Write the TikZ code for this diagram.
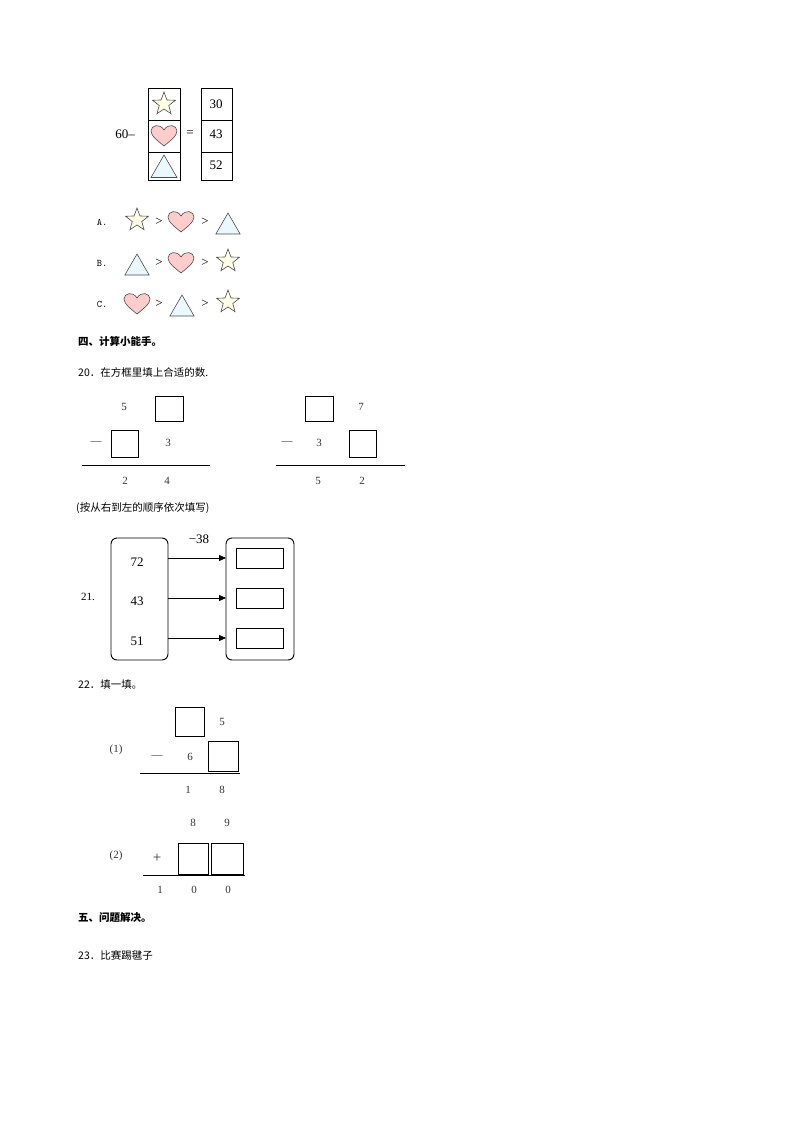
\documentclass[tikz,border=0pt]{standalone}
\usepackage{fontspec}
\setmainfont{Liberation Serif}
\newfontfamily\cjk{Noto Sans CJK SC}
\usetikzlibrary{shapes.geometric,arrows.meta}
\begin{document}
\begin{tikzpicture}[x=1pt,y=-1pt,
 bx/.style={draw,line width=0.8pt},
 txt/.style={anchor=west,inner sep=0,font=\cjk\fontsize{10.5}{12}\selectfont},
 btxt/.style={anchor=west,inner sep=0,font=\cjk\bfseries\fontsize{10.5}{12}\selectfont},
 num/.style={inner sep=0,font=\fontsize{13}{14}\selectfont},
 dig/.style={inner sep=0,font=\fontsize{11}{12}\selectfont,text=black!80},
 starS/.style={star,star points=5,star point ratio=2.4,minimum size=24pt,inner sep=0,draw=black!70,fill=yellow!10,line width=0.6pt},
 triS/.style={regular polygon,regular polygon sides=3,minimum size=30pt,inner sep=0,draw=black!70,fill=cyan!8,line width=0.6pt},
 arr/.style={-{Triangle[length=7pt,width=6pt]},line width=0.8pt}]
\useasboundingbox (0,0) rectangle (794,1123);
\newcommand\heartat[2]{\draw[draw=black!70,fill=red!20,line width=0.6pt] (#1,#2+10) .. controls (#1-6,#2+5) and (#1-13,#2) .. (#1-13,#2-5) .. controls (#1-13,#2-11) and (#1-4,#2-13) .. (#1,#2-6) .. controls (#1+4,#2-13) and (#1+13,#2-11) .. (#1+13,#2-5) .. controls (#1+13,#2) and (#1+6,#2+5) .. (#1,#2+10) -- cycle;}
% top equation
\node[num] (sixty) at (125,134) {60–};
\draw[bx] (148,88) rectangle (180,180); \draw[bx] (148,120)--(180,120); \draw[bx] (148,152)--(180,152);
\node[starS] (s0) at (164,104) {};
\heartat{164}{136}
\node[triS] (t0) at (164,170) {};
\node[num] (eq) at (190,134) {=};
\draw[bx] (201,88) rectangle (232,180); \draw[bx] (201,120)--(232,120); \draw[bx] (201,152)--(232,152);
\node[num] (n30) at (216,104) {30};
\node[num] (n43) at (216,134) {43};
\node[num] (n52) at (216,165) {52};
% options
\foreach \lab/\yy in {A/222,B/263,C/304}{\node[inner sep=0,font=\ttfamily\fontsize{10}{12}\selectfont] at (102,\yy) {\lab.};}
\node[starS] (a1) at (137,220) {}; \node[num] at (159,222) {>}; \heartat{181}{222} \node[num] at (205,222) {>}; \node[triS,minimum size=28pt] (a3) at (228,227) {};
\node[triS,minimum size=28pt] (b1) at (137,268) {}; \node[num] at (159,263) {>}; \heartat{181}{263} \node[num] at (205,263) {>}; \node[starS] (b3) at (228,261) {};
\heartat{137}{304} \node[num] at (159,304) {>}; \node[triS,minimum size=28pt] (c2) at (182,309) {}; \node[num] at (205,304) {>}; \node[starS] (c3) at (228,302) {};
\node[btxt] (h4) at (78,341) {四、计算小能手。};
\node[txt] (q20) at (78,372) {20．在方框里填上合适的数.};
% sub1
\node[dig] at (124,407) {5}; \draw (155,396) rectangle (183,421);
\node[dig] at (96,443) {—}; \draw (111,430) rectangle (138,457); \node[dig] at (168,443) {3};
\draw (82,465)--(210,465);
\node[dig] at (125,481) {2}; \node[dig] at (167,481) {4};
% sub2
\draw (305,396) rectangle (333,421); \node[dig] at (361,407) {7};
\node[dig] at (287,443) {—}; \node[dig] at (319,443) {3}; \draw (349,430) rectangle (376,457);
\draw (276,465)--(405,465);
\node[dig] at (318,481) {5}; \node[dig] at (362,481) {2};
\node[txt] (hint) at (76,508) {(按从右到左的顺序依次填写)};
% 21
\node[inner sep=0,font=\fontsize{11}{12}\selectfont] (q21) at (88,597) {21.};
\draw[line width=0.9pt,rounded corners=6pt] (111,538) rectangle (168,660);
\draw[line width=0.9pt,rounded corners=6pt] (226,538) rectangle (294,660);
\node[num] (m38) at (199,539) {−38};
\foreach \v/\yy [count=\i] in {72/562,43/601,51/641}{\node[num] at (137,\yy) {\v};}
\foreach \yy [count=\i] in {558,598,638}{
 \coordinate (L\i) at (168,\yy); \coordinate (R\i) at (226,\yy);
 \draw[arr] (L\i)--(R\i);
 \draw[line width=0.9pt] (236,\yy-10) rectangle (283,\yy+10);}
\node[txt] (q22) at (78,685) {22．填一填。};
% 22(1)
\node[dig] at (116,750) {(1)};
\draw (175,707) rectangle (204,736); \node[dig] at (222,722) {5};
\node[dig] at (157,757) {—}; \node[dig] at (190,757) {6}; \draw (208,741) rectangle (238,771);
\draw (140,773)--(240,773);
\node[dig] at (188,790) {1}; \node[dig] at (222,790) {8};
% 22(2)
\node[dig] at (193,823) {8}; \node[dig] at (227,823) {9};
\node[dig] at (116,856) {(2)}; \node[dig,font=\fontsize{15}{16}\selectfont] at (157,858) {+};
\draw (178,843) rectangle (208,874); \draw (211,843) rectangle (243,874);
\draw (143,875)--(245,875);
\node[dig] at (160,890) {1}; \node[dig] at (194,890) {0}; \node[dig] at (228,890) {0};
\node[btxt] (h5) at (78,918) {五、问题解决。};
\node[txt] (q23) at (78,955) {23．比赛踢毽子};
\end{tikzpicture}
\end{document}
